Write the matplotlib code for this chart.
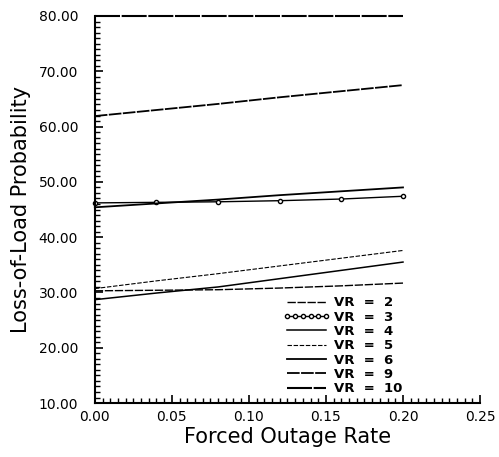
import matplotlib
matplotlib.use("Agg")
import matplotlib.pyplot as plt
from matplotlib.ticker import MultipleLocator, FormatStrFormatter

forced_outage_rate = [0.00, 0.04, 0.08, 0.12, 0.16, 0.20]
vr_labels = ["VR  =  2", "VR  =  3", "VR  =  4", "VR  =  5", "VR  =  6", "VR  =  9", "VR  =  10"]
lolp_vr2 = [30.3, 30.4, 30.5, 30.8, 31.2, 31.7]
lolp_vr3 = [46.2, 46.3, 46.4, 46.6, 46.9, 47.4]
lolp_vr4 = [28.7, 29.9, 31.0, 32.5, 34.0, 35.5]
lolp_vr5 = [30.7, 32.1, 33.4, 34.8, 36.2, 37.6]
lolp_vr6 = [45.4, 46.1, 46.8, 47.6, 48.3, 49.0]
lolp_vr9 = [61.9, 63.0, 64.1, 65.3, 66.4, 67.5]
lolp_vr10 = [80.0, 80.0, 80.0, 80.0, 80.0, 80.0]

series = [lolp_vr2, lolp_vr3, lolp_vr4, lolp_vr5, lolp_vr6, lolp_vr9, lolp_vr10]
styles = [
    dict(ls=(0, (6, 1.2)), lw=1.0),
    dict(ls="-", lw=1.0, marker="o", ms=3.0, mfc="white", mec="black", mew=1.0),
    dict(ls="-", lw=1.1),
    dict(ls=(0, (4, 1.5)), lw=0.8),
    dict(ls="-", lw=1.3),
    dict(ls=(0, (7, 0.8)), lw=1.3),
    dict(ls=(0, (12, 0.8)), lw=1.5),
]

fig = plt.figure(figsize=(4.99, 4.57), dpi=100)
ax = fig.add_axes([0.19, 0.118, 0.772, 0.847])

for vals, lab, st in zip(series, vr_labels, styles):
    ax.plot(forced_outage_rate, vals, color="black", label=lab, clip_on=False, **st)

ax.set_xlim(0, 0.25)
ax.set_ylim(10, 80)
ax.spines["top"].set_visible(False)
ax.spines["right"].set_visible(False)
ax.spines["left"].set_linewidth(1.5)
ax.spines["bottom"].set_linewidth(1.5)

ax.xaxis.set_major_locator(MultipleLocator(0.05))
ax.xaxis.set_minor_locator(MultipleLocator(0.005))
ax.yaxis.set_major_locator(MultipleLocator(10))
ax.yaxis.set_minor_locator(MultipleLocator(1))
ax.xaxis.set_major_formatter(FormatStrFormatter("%.2f"))
ax.yaxis.set_major_formatter(FormatStrFormatter("%.2f"))
ax.tick_params(which="major", direction="in", length=6, width=1.2, labelsize=10)
ax.tick_params(which="minor", direction="in", length=3.5, width=1.0)
ax.tick_params(axis="y", which="major", pad=12)
ax.tick_params(axis="x", which="major", pad=5)

ax.set_xlabel("Forced Outage Rate", fontsize=15, labelpad=2)
ax.set_ylabel("Loss-of-Load Probability", fontsize=15)
ax.yaxis.set_label_coords(-0.165, 0.5)

leg = ax.legend(loc="lower left", bbox_to_anchor=(0.488, 0.02), frameon=False,
                fontsize=9.5, handlelength=3.6, handletextpad=0.3,
                labelspacing=0.1, numpoints=6, borderaxespad=0.0, borderpad=0.0)
for t in leg.get_texts():
    t.set_fontweight("bold")

fig.savefig("out.png", dpi=100)
